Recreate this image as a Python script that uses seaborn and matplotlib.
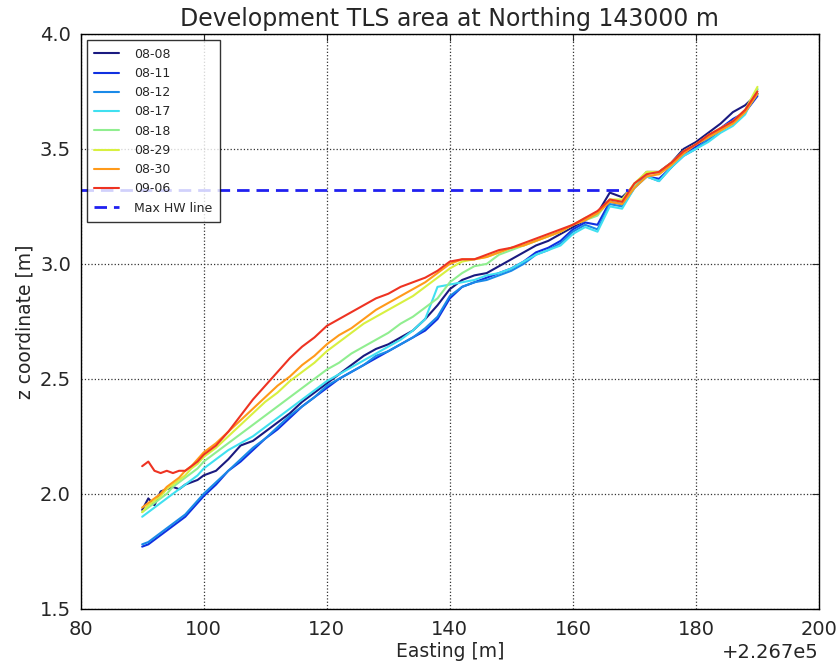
import numpy as np
import pandas as pd
import matplotlib
matplotlib.use("Agg")
import matplotlib.pyplot as plt
import seaborn as sns

# ---------------- data ----------------
easting_base = 226700
easting_rel = [90, 91, 92, 93, 94, 95, 96, 97, 98, 99, 100,
               102, 104, 106, 108, 110, 112, 114, 116, 118, 120,
               122, 124, 126, 128, 130, 132, 134, 136, 138, 140,
               142, 144, 146, 148, 150, 152, 154, 156, 158, 160,
               162, 164, 166, 168, 170, 172, 174, 176, 178, 180,
               182, 184, 186, 188, 190]

z_0808 = [1.93, 1.98, 1.95, 2.01, 2.02, 2.03, 2.02, 2.04, 2.05, 2.06, 2.08,
          2.10, 2.15, 2.21, 2.23, 2.27, 2.31, 2.35, 2.40, 2.44, 2.48,
          2.52, 2.56, 2.60, 2.63, 2.65, 2.68, 2.71, 2.76, 2.82, 2.89,
          2.93, 2.95, 2.96, 2.99, 3.02, 3.05, 3.08, 3.10, 3.13, 3.16,
          3.19, 3.22, 3.31, 3.29, 3.34, 3.40, 3.40, 3.44, 3.50, 3.53,
          3.57, 3.61, 3.66, 3.69, 3.74]
z_0811 = [1.77, 1.78, 1.80, 1.82, 1.84, 1.86, 1.88, 1.90, 1.93, 1.96, 1.99,
          2.04, 2.10, 2.14, 2.19, 2.24, 2.28, 2.33, 2.38, 2.42, 2.46,
          2.50, 2.53, 2.56, 2.59, 2.62, 2.65, 2.68, 2.71, 2.76, 2.85,
          2.90, 2.92, 2.94, 2.96, 2.98, 3.01, 3.05, 3.07, 3.10, 3.15,
          3.18, 3.17, 3.27, 3.26, 3.34, 3.38, 3.37, 3.42, 3.48, 3.51,
          3.55, 3.59, 3.63, 3.66, 3.73]
z_0812 = [1.78, 1.79, 1.81, 1.83, 1.85, 1.87, 1.89, 1.91, 1.94, 1.97, 2.00,
          2.05, 2.10, 2.15, 2.20, 2.24, 2.29, 2.34, 2.38, 2.42, 2.47,
          2.50, 2.53, 2.56, 2.60, 2.62, 2.65, 2.68, 2.72, 2.77, 2.86,
          2.90, 2.92, 2.93, 2.95, 2.97, 3.00, 3.04, 3.06, 3.09, 3.14,
          3.17, 3.15, 3.26, 3.25, 3.33, 3.38, 3.36, 3.42, 3.47, 3.50,
          3.54, 3.58, 3.62, 3.66, 3.74]
z_0817 = [1.90, 1.92, 1.94, 1.96, 1.98, 2.00, 2.02, 2.04, 2.06, 2.08, 2.11,
          2.15, 2.19, 2.22, 2.25, 2.29, 2.33, 2.37, 2.41, 2.45, 2.49,
          2.52, 2.55, 2.58, 2.61, 2.64, 2.67, 2.71, 2.76, 2.90, 2.91,
          2.92, 2.93, 2.95, 2.96, 2.98, 3.01, 3.04, 3.06, 3.08, 3.13,
          3.16, 3.14, 3.25, 3.24, 3.33, 3.38, 3.36, 3.42, 3.47, 3.50,
          3.53, 3.57, 3.60, 3.65, 3.76]
z_0818 = [1.92, 1.94, 1.96, 1.98, 2.00, 2.03, 2.05, 2.07, 2.09, 2.11, 2.14,
          2.18, 2.22, 2.26, 2.30, 2.34, 2.38, 2.42, 2.46, 2.50, 2.54,
          2.57, 2.61, 2.64, 2.67, 2.70, 2.74, 2.77, 2.81, 2.85, 2.92,
          2.96, 2.99, 3.00, 3.04, 3.06, 3.08, 3.10, 3.12, 3.14, 3.17,
          3.19, 3.21, 3.28, 3.27, 3.34, 3.40, 3.39, 3.43, 3.49, 3.52,
          3.55, 3.58, 3.61, 3.66, 3.76]
z_0829 = [1.92, 1.95, 1.97, 1.99, 2.02, 2.04, 2.06, 2.08, 2.11, 2.13, 2.16,
          2.20, 2.25, 2.30, 2.35, 2.40, 2.44, 2.49, 2.53, 2.57, 2.62,
          2.66, 2.70, 2.74, 2.77, 2.80, 2.83, 2.86, 2.90, 2.94, 2.98,
          3.01, 3.02, 3.03, 3.05, 3.07, 3.08, 3.10, 3.12, 3.14, 3.17,
          3.20, 3.22, 3.28, 3.28, 3.35, 3.40, 3.40, 3.44, 3.49, 3.52,
          3.56, 3.59, 3.62, 3.67, 3.77]
z_0830 = [1.94, 1.96, 1.98, 2.00, 2.03, 2.05, 2.07, 2.10, 2.12, 2.15, 2.18,
          2.22, 2.27, 2.32, 2.37, 2.42, 2.47, 2.51, 2.56, 2.60, 2.65,
          2.69, 2.72, 2.76, 2.80, 2.83, 2.86, 2.89, 2.92, 2.96, 3.00,
          3.02, 3.02, 3.03, 3.05, 3.07, 3.08, 3.10, 3.12, 3.14, 3.17,
          3.19, 3.22, 3.27, 3.26, 3.33, 3.38, 3.39, 3.43, 3.48, 3.52,
          3.55, 3.58, 3.61, 3.66, 3.74]
z_0906 = [2.12, 2.14, 2.10, 2.09, 2.10, 2.09, 2.10, 2.10, 2.12, 2.14, 2.17,
          2.21, 2.27, 2.34, 2.41, 2.47, 2.53, 2.59, 2.64, 2.68, 2.73,
          2.76, 2.79, 2.82, 2.85, 2.87, 2.90, 2.92, 2.94, 2.97, 3.01,
          3.02, 3.02, 3.04, 3.06, 3.07, 3.09, 3.11, 3.13, 3.15, 3.17,
          3.20, 3.23, 3.28, 3.27, 3.35, 3.39, 3.40, 3.44, 3.49, 3.52,
          3.56, 3.59, 3.62, 3.67, 3.75]

dates = ["08-08", "08-11", "08-12", "08-17", "08-18", "08-29", "08-30", "09-06"]
series = [z_0808, z_0811, z_0812, z_0817, z_0818, z_0829, z_0830, z_0906]
colors = ["#1a1a80", "#1030e0", "#1a8ae8", "#40e0f0", "#90ee90",
          "#d8f040", "#ff9a1a", "#ee3322"]

hw_rel = [80, 169]
hw_z = [3.32, 3.32]

# ---------------- long table ----------------
rows = []
for d, zs in zip(dates, series):
    for xr, z in zip(easting_rel, zs):
        rows.append({"easting": easting_base + xr, "z": z, "date": d})
df = pd.DataFrame(rows)

# ---------------- plot ----------------
sns.set_style("white")
plt.rcParams["font.family"] = ["DejaVu Sans"]

fig = plt.figure(figsize=(8.4, 6.66), dpi=100)
ax = fig.add_axes([0.096, 0.086, 0.879, 0.863])

sns.lineplot(data=df, x="easting", y="z", hue="date", hue_order=dates,
             palette=dict(zip(dates, colors)), estimator=None, sort=False,
             linewidth=1.5, ax=ax)
ax.plot([easting_base + v for v in hw_rel], hw_z, linestyle="--",
        color="#2020f0", linewidth=2, dashes=(4.5, 2.5), label="Max HW line")

ax.set_xlim(easting_base + 80, easting_base + 200)
ax.set_ylim(1.5, 4.0)
ax.set_xticks([easting_base + v for v in [80, 100, 120, 140, 160, 180, 200]])
ax.set_yticks([1.5, 2.0, 2.5, 3.0, 3.5, 4.0])
ax.ticklabel_format(axis="x", useOffset=easting_base)
ax.grid(True, linestyle=":", color="#333333", linewidth=0.9)
ax.tick_params(direction="in", length=5, labelsize=14, top=True, right=True)
ax.tick_params(axis="x", pad=8)
ax.tick_params(axis="y", pad=7)
ax.xaxis.get_offset_text().set_fontsize(14)
for s in ax.spines.values():
    s.set_color("black")
    s.set_linewidth(1.0)

ax.set_title("Development TLS area at Northing 143000 m", fontsize=17)
ax.set_xlabel("Easting [m]", fontsize=13.5, labelpad=2)
ax.set_ylabel("z coordinate [m]", fontsize=13.5)

handles, labels = ax.get_legend_handles_labels()
leg = ax.legend(handles, labels, loc="upper left", fontsize=9,
                frameon=True, fancybox=False, edgecolor="black",
                handlelength=2.0, borderpad=0.6, labelspacing=0.5,
                handletextpad=1.2)
leg.get_frame().set_linewidth(1.0)

fig.savefig("out.png", dpi=100)
